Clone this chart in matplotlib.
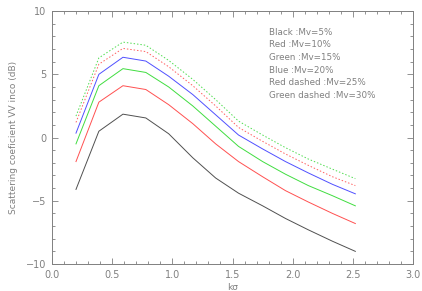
import matplotlib
matplotlib.use("Agg")
import matplotlib.pyplot as plt
from matplotlib.ticker import MultipleLocator, FormatStrFormatter, FuncFormatter

ksigma = [0.2, 0.39, 0.59, 0.78, 0.97, 1.17, 1.36, 1.55, 1.75, 1.94, 2.13, 2.33, 2.52]
mv5 = [-4.1, 0.5, 1.85, 1.55, 0.3, -1.6, -3.2, -4.4, -5.4, -6.4, -7.3, -8.2, -9.0]
mv10 = [-1.9, 2.8, 4.1, 3.8, 2.6, 1.1, -0.5, -1.9, -3.1, -4.2, -5.1, -6.0, -6.8]
mv15 = [-0.5, 4.1, 5.45, 5.15, 4.0, 2.5, 0.9, -0.7, -1.9, -2.9, -3.8, -4.6, -5.4]
mv20 = [0.35, 5.0, 6.35, 6.05, 4.85, 3.4, 1.8, 0.2, -0.9, -1.9, -2.8, -3.7, -4.45]
mv25 = [1.2, 5.8, 7.05, 6.8, 5.6, 4.1, 2.5, 0.8, -0.3, -1.3, -2.2, -3.1, -3.8]
mv30 = [1.7, 6.3, 7.55, 7.3, 6.1, 4.6, 3.0, 1.3, 0.2, -0.8, -1.7, -2.5, -3.25]

legend_lines = ["Black :Mv=5%", "Red :Mv=10%", "Green :Mv=15%", "Blue :Mv=20%",
                "Red dashed :Mv=25%", "Green dashed :Mv=30%"]

gray = "#808080"
plt.rcParams['font.family'] = ['DejaVu Sans']

fig = plt.figure(figsize=(4.22, 2.91), dpi=100)
ax = fig.add_axes([0.123, 0.0928, 0.856, 0.869])

lw = 0.7
ax.plot(ksigma, mv5, color="#505050", lw=lw)
ax.plot(ksigma, mv10, color="#ff5050", lw=lw)
ax.plot(ksigma, mv15, color="#40dd40", lw=lw)
ax.plot(ksigma, mv20, color="#5050ff", lw=lw)
ax.plot(ksigma, mv25, color="#ff6060", lw=lw, linestyle=(0, (1.5, 2)))
ax.plot(ksigma, mv30, color="#50dd50", lw=lw, linestyle=(0, (1.5, 2)))

ax.set_xlim(0, 3.0)
ax.set_ylim(-10, 10)
ax.xaxis.set_major_locator(MultipleLocator(0.5))
ax.xaxis.set_minor_locator(MultipleLocator(0.1))
ax.yaxis.set_major_locator(MultipleLocator(5))
ax.yaxis.set_minor_locator(MultipleLocator(1))
ax.xaxis.set_major_formatter(FormatStrFormatter('%.1f'))
ax.yaxis.set_major_formatter(FuncFormatter(
    lambda v, p: ("\u2212%d" % abs(v)) if v < 0 else "%d" % v))

for s in ax.spines.values():
    s.set_color(gray)
    s.set_linewidth(0.7)
ax.tick_params(which='both', direction='in', top=True, right=True, colors=gray,
               labelsize=7, width=0.6, pad=4)
ax.tick_params(which='major', length=4.5)
ax.tick_params(which='minor', length=2.5)

ax.set_xlabel("k\u03c3", fontsize=6.5, color=gray, labelpad=2.5)
ax.set_ylabel("Scattering coeficient VV inco (dB)", fontsize=6.5, color=gray, labelpad=6)

for i, t in enumerate(legend_lines):
    ax.text(0.602, 0.917 - i * 0.0502, t, transform=ax.transAxes, fontsize=6.3,
            color=gray, va='center', ha='left')

fig.savefig("out.png", dpi=100)
